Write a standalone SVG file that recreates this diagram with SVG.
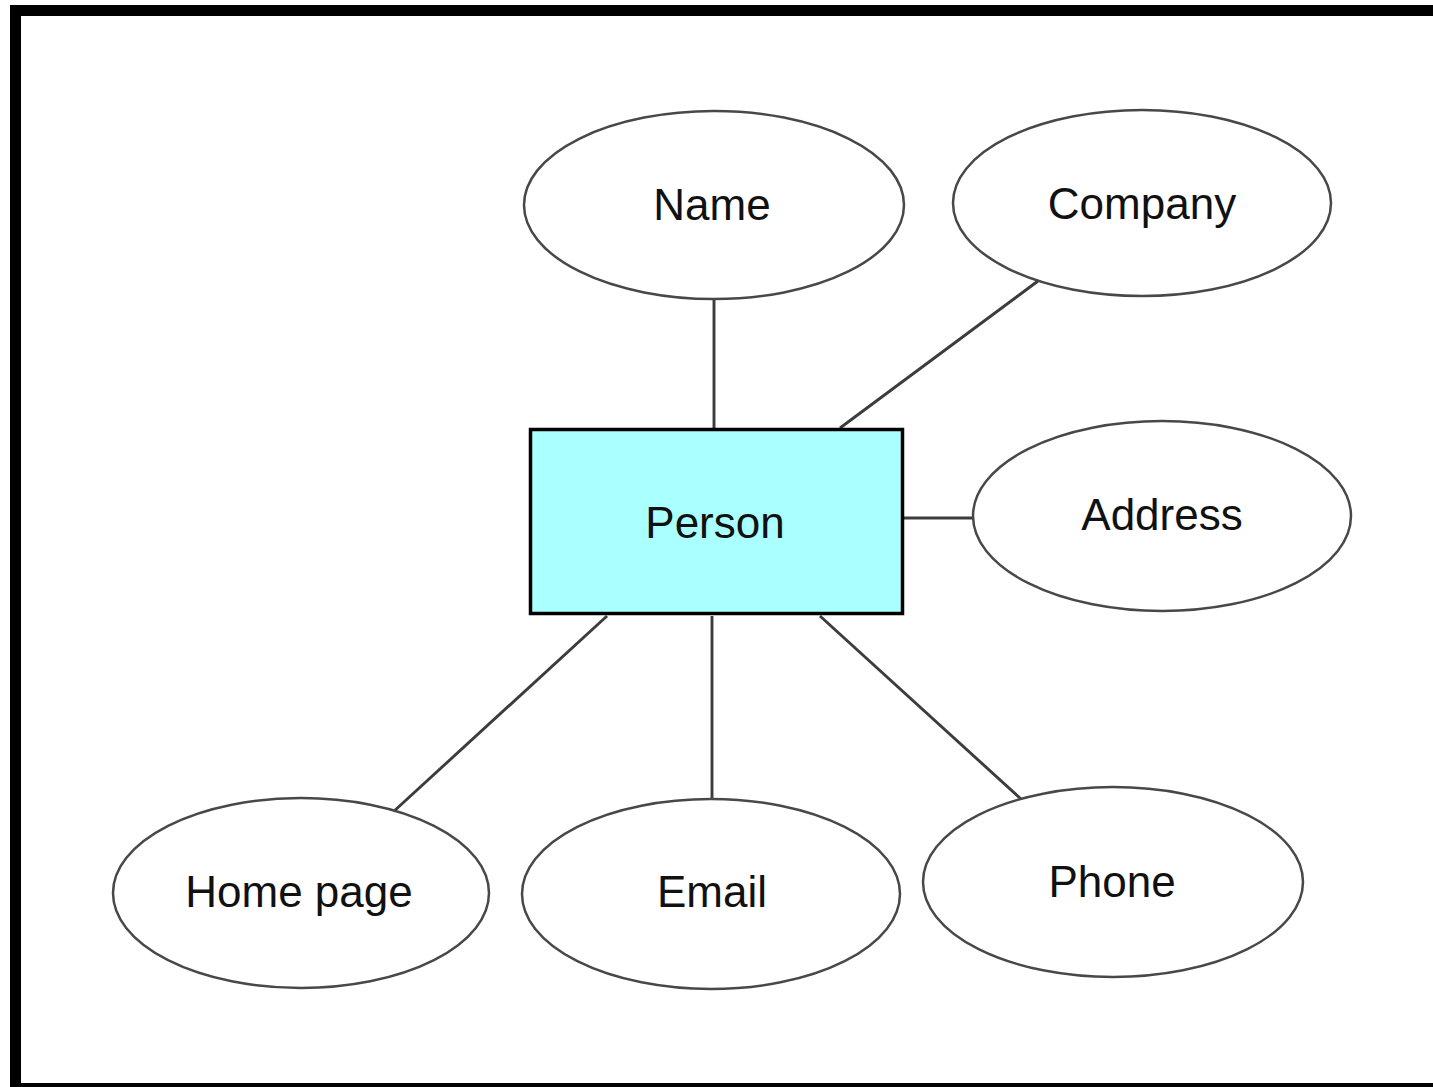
<svg xmlns="http://www.w3.org/2000/svg" width="1433" height="1087" viewBox="0 0 1433 1087">
  <style>
    .attr ellipse { fill: #ffffff; stroke: #484848; stroke-width: 2.5; }
    .entity rect { fill: #aaffff; stroke: #000000; stroke-width: 3.5; }
    text { font-family: "Liberation Sans", Arial, Helvetica, sans-serif; font-size: 44px; fill: #111111; text-anchor: middle; }
    .links line { stroke: #3c3c3c; stroke-width: 2.9; }
  </style>
  <!-- page frame -->
  <rect x="0" y="0" width="1433" height="1087" fill="#ffffff"/>
  <rect x="15.5" y="10.5" width="1430" height="1078" fill="none" stroke="#000000" stroke-width="11"/>

  <!-- connectors -->
  <g id="connectors" class="links">
    <line x1="714" y1="300" x2="714" y2="428"/>
    <line x1="1038" y1="281" x2="840" y2="428"/>
    <line x1="904" y1="518" x2="974" y2="518"/>
    <line x1="607" y1="616" x2="393" y2="812"/>
    <line x1="712" y1="616" x2="712" y2="800"/>
    <line x1="820" y1="616" x2="1021" y2="799"/>
  </g>

  <g id="person" class="entity">
    <rect x="530.5" y="429.5" width="372" height="184"/>
    <text x="715" y="538">Person</text>
  </g>
  <g id="name" class="attr">
    <ellipse cx="714" cy="205" rx="190" ry="94"/>
    <text x="712" y="220">Name</text>
  </g>
  <g id="company" class="attr">
    <ellipse cx="1142" cy="203" rx="189" ry="93"/>
    <text x="1142" y="219">Company</text>
  </g>
  <g id="address" class="attr">
    <ellipse cx="1162" cy="516" rx="189" ry="95"/>
    <text x="1162" y="530">Address</text>
  </g>
  <g id="home-page" class="attr">
    <ellipse cx="301" cy="893" rx="188" ry="95"/>
    <text x="299" y="907">Home page</text>
  </g>
  <g id="email" class="attr">
    <ellipse cx="711" cy="894" rx="189" ry="95"/>
    <text x="712" y="907">Email</text>
  </g>
  <g id="phone" class="attr">
    <ellipse cx="1113" cy="882" rx="190" ry="95"/>
    <text x="1112" y="897">Phone</text>
  </g>
</svg>
